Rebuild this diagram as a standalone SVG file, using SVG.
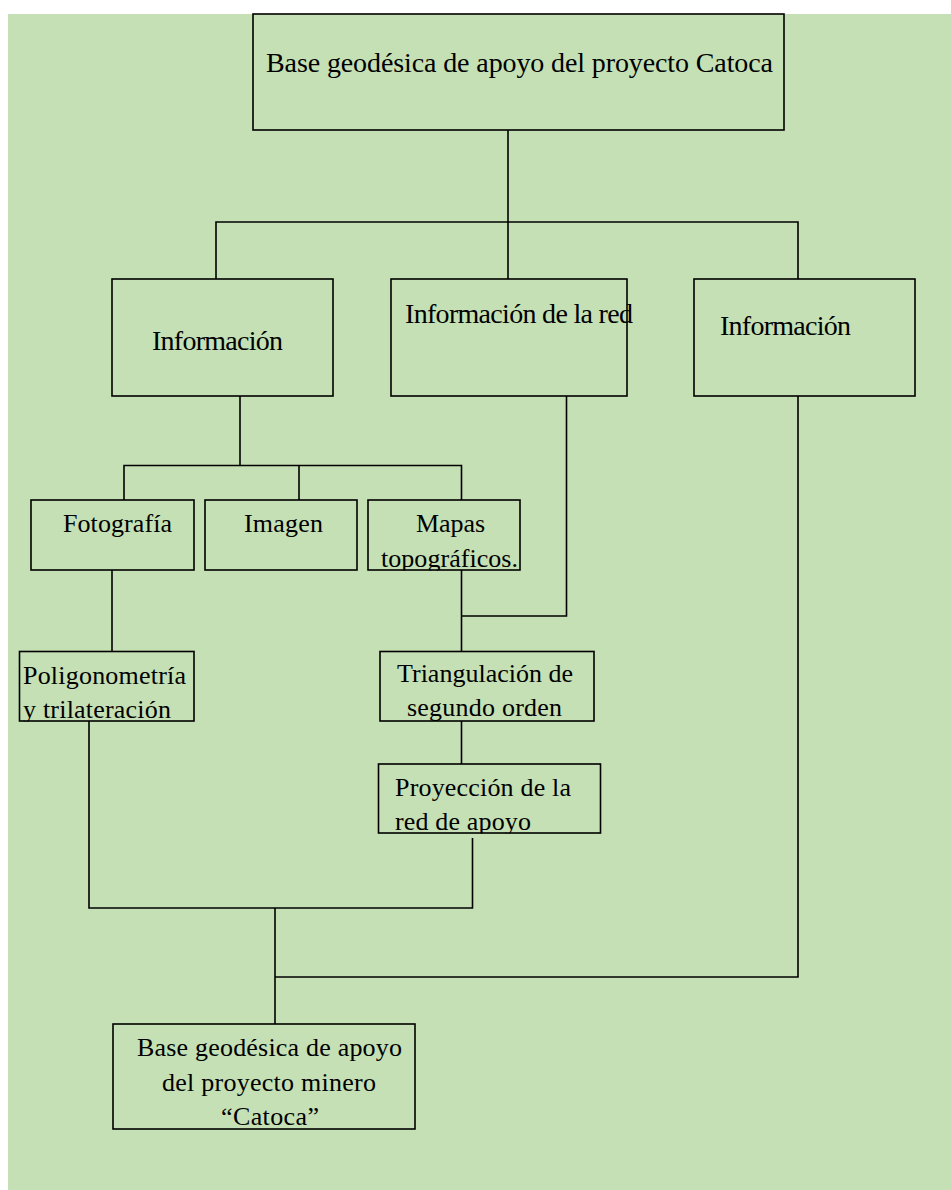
<svg xmlns="http://www.w3.org/2000/svg" width="951" height="1190" viewBox="0 0 951 1190">
<style>
.box{fill:#C5E0B4;stroke:#000;stroke-width:1.6}
.ln{fill:none;stroke:#000;stroke-width:1.6}
text{font-family:"Liberation Serif","Times New Roman",serif;fill:#000;font-size:26px}
.big{font-size:28px}
</style>
<defs>
<clipPath id="cMapas"><rect x="368" y="500" width="153" height="70.5"/></clipPath>
<clipPath id="cPoli"><rect x="19" y="651" width="176" height="70.5"/></clipPath>
<clipPath id="cProy"><rect x="378" y="764" width="223" height="69.5"/></clipPath>
</defs>
<rect x="8" y="14" width="943" height="1176" fill="#C5E0B4"/>
<g id="connectors">
<polyline class="ln" points="508,130 508,222"/>
<polyline class="ln" points="216,279 216,222 798,222 798,279"/>
<polyline class="ln" points="508,222 508,279"/>
<polyline class="ln" points="240,396 240,465.5"/>
<polyline class="ln" points="124,500 124,465.5 461.5,465.5 461.5,500"/>
<polyline class="ln" points="299,465.5 299,500"/>
<polyline class="ln" points="112,570 112,651.5"/>
<polyline class="ln" points="461.5,570 461.5,651.5"/>
<polyline class="ln" points="566.5,396 566.5,616 461.5,616"/>
<polyline class="ln" points="461.5,721 461.5,764"/>
<polyline class="ln" points="89,721 89,908 472.5,908 472.5,838"/>
<polyline class="ln" points="275,908 275,1024"/>
<polyline class="ln" points="798,396 798,977 275,977"/>
</g>
<g id="n-top">
<rect class="box" x="253" y="14" width="531" height="116"/>
<text class="big" x="266" y="72" textLength="507" lengthAdjust="spacing">Base geodésica de apoyo del proyecto Catoca</text>
</g>
<g id="n-info-left">
<rect class="box" x="112" y="279" width="221" height="117"/>
<text class="big" x="152" y="350" textLength="131" lengthAdjust="spacing">Información</text>
</g>
<g id="n-info-red">
<rect class="box" x="391" y="279" width="236" height="117"/>
<text class="big" x="405" y="323" textLength="228" lengthAdjust="spacing">Información de la red</text>
</g>
<g id="n-info-right">
<rect class="box" x="694" y="279" width="221" height="117"/>
<text class="big" x="720" y="335" textLength="131" lengthAdjust="spacing">Información</text>
</g>
<g id="n-foto">
<rect class="box" x="31" y="500" width="163" height="70"/>
<text x="63" y="532" textLength="109" lengthAdjust="spacing">Fotografía</text>
</g>
<g id="n-imagen">
<rect class="box" x="205" y="500" width="152" height="70"/>
<text x="244" y="532" textLength="79" lengthAdjust="spacing">Imagen</text>
</g>
<g id="n-mapas">
<rect class="box" x="368" y="500" width="152" height="70"/>
<g clip-path="url(#cMapas)">
<text x="416" y="532" textLength="69" lengthAdjust="spacing">Mapas</text>
<text x="381" y="567" textLength="137" lengthAdjust="spacing">topográficos.</text>
</g>
</g>
<g id="n-poli">
<rect class="box" x="19.5" y="651.5" width="174.5" height="69.5"/>
<g clip-path="url(#cPoli)">
<text x="23" y="684" textLength="163" lengthAdjust="spacing">Poligonometría</text>
<text x="23" y="718" textLength="148" lengthAdjust="spacing">y trilateración</text>
</g>
</g>
<g id="n-triang">
<rect class="box" x="380" y="651.5" width="214" height="69.5"/>
<text x="397" y="682" textLength="176" lengthAdjust="spacing">Triangulación de</text>
<text x="407" y="716" textLength="155" lengthAdjust="spacing">segundo orden</text>
</g>
<g id="n-proy">
<rect class="box" x="378.5" y="764" width="222" height="69"/>
<g clip-path="url(#cProy)">
<text x="395" y="796" textLength="176" lengthAdjust="spacing">Proyección de la</text>
<text x="395" y="830" textLength="136" lengthAdjust="spacing">red de apoyo</text>
</g>
</g>
<g id="n-bottom">
<rect class="box" x="113" y="1024" width="302" height="105"/>
<text x="137" y="1056" textLength="265" lengthAdjust="spacing">Base geodésica de apoyo</text>
<text x="162" y="1091" textLength="214" lengthAdjust="spacing">del proyecto minero</text>
<text x="221" y="1125" textLength="98" lengthAdjust="spacing">“Catoca”</text>
</g>
</svg>
